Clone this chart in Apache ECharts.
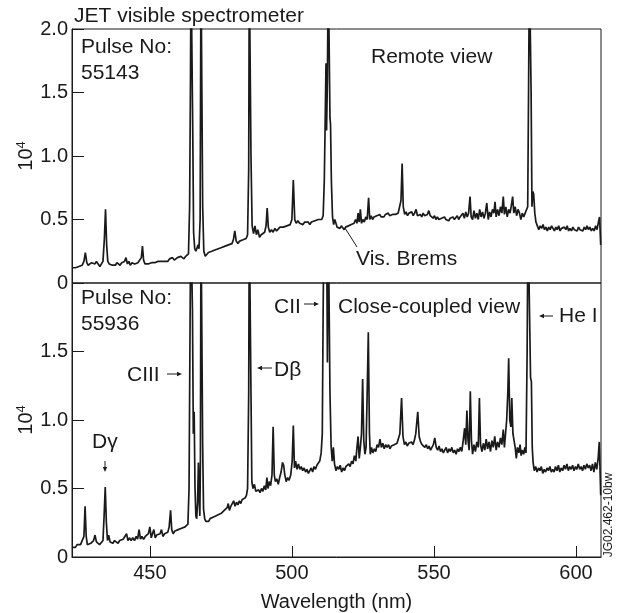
<!DOCTYPE html>
<html>
<head>
<meta charset="utf-8">
<script src="https://cdn.jsdelivr.net/npm/echarts@6/dist/echarts.min.js"></script>
<style>html,body{margin:0;padding:0;background:#fff}#c{width:620px;height:613px}</style>
</head>
<body>
<div id="c"></div>
<script>
// Wavelength axis (nm)
const xMin = 422.6, xMax = 608.8;
const xTickValues = [450, 500, 550, 600];
const yTickValues = [0, 0.5, 1.0, 1.5, 2.0];

// Remote view, pulse 55143: [wavelength nm, intensity x10^4]
const topSpectrum = [
[422.6,0.12],[423.2,0.11],[423.8,0.12],[424.4,0.12],[425.0,0.13],[425.6,0.12],[426.2,0.14],[426.8,0.17],[427.3,0.24],[427.8,0.16],
[428.3,0.14],[428.9,0.15],[429.5,0.16],[430.1,0.16],[430.7,0.15],[431.2,0.17],[431.8,0.15],[432.4,0.13],[432.9,0.14],[433.5,0.17],
[434.0,0.35],[434.4,0.58],[434.8,0.30],[435.2,0.17],[435.7,0.15],[436.2,0.16],[436.8,0.14],[437.3,0.15],[437.9,0.14],[438.4,0.16],
[439.0,0.15],[439.5,0.14],[440.1,0.16],[440.6,0.15],[441.1,0.17],[441.6,0.20],[442.1,0.15],[442.6,0.17],[443.1,0.14],[443.7,0.16],
[444.2,0.17],[444.7,0.15],[445.3,0.14],[445.8,0.16],[446.4,0.15],[447.0,0.20],[447.4,0.29],[447.8,0.18],[448.3,0.15],[448.9,0.16],
[449.4,0.15],[450.0,0.15],[450.6,0.16],[451.2,0.15],[451.7,0.16],[452.3,0.15],[452.9,0.17],[453.4,0.16],[454.0,0.17],[454.6,0.18],
[455.2,0.17],[455.7,0.18],[456.3,0.17],[456.9,0.19],[457.4,0.18],[458.0,0.20],[458.6,0.18],[459.2,0.19],[459.7,0.20],[460.3,0.19],
[460.9,0.21],[461.5,0.20],[462.0,0.19],[462.6,0.21],[463.1,0.20],[463.6,0.23],[464.0,0.60],[464.3,1.60],[464.5,2.50],[464.8,2.50],
[465.1,1.20],[465.4,0.40],[465.8,0.27],[466.2,0.25],[466.6,0.24],[467.0,0.30],[467.3,0.27],[467.7,0.50],[468.0,2.50],[468.3,2.50],
[468.6,0.60],[469.0,0.25],[469.5,0.21],[470.0,0.22],[470.6,0.24],[471.2,0.23],[471.8,0.25],[472.3,0.24],[472.9,0.26],[473.5,0.25],
[474.1,0.27],[474.7,0.26],[475.3,0.28],[475.9,0.27],[476.5,0.29],[477.1,0.28],[477.7,0.30],[478.3,0.29],[478.9,0.31],[479.4,0.34],
[479.9,0.41],[480.4,0.33],[481.0,0.31],[481.6,0.33],[482.2,0.32],[482.8,0.34],[483.4,0.33],[483.9,0.35],[484.4,0.38],[484.8,0.90],
[485.0,2.50],[485.3,2.50],[485.6,1.00],[486.0,0.45],[486.5,0.39],[487.0,0.45],[487.5,0.38],[488.0,0.42],[488.6,0.36],[489.2,0.38],
[489.8,0.37],[490.4,0.40],[490.9,0.45],[491.3,0.59],[491.7,0.44],[492.2,0.40],[492.8,0.42],[493.4,0.40],[494.0,0.43],[494.6,0.41],
[495.2,0.42],[495.8,0.44],[496.4,0.43],[497.0,0.44],[497.6,0.43],[498.2,0.45],[498.8,0.44],[499.4,0.46],[500.0,0.50],[500.5,0.81],
[501.0,0.50],[501.5,0.47],[502.1,0.49],[502.7,0.47],[503.3,0.48],[503.9,0.46],[504.5,0.48],[505.1,0.47],[505.7,0.48],[506.3,0.46],
[506.9,0.48],[507.5,0.47],[508.1,0.49],[508.7,0.48],[509.3,0.50],[509.9,0.49],[510.5,0.50],[511.0,0.53],[511.4,0.80],[511.8,1.40],
[512.0,1.73],[512.2,1.20],[512.5,1.60],[512.8,2.50],[513.1,2.50],[513.4,1.30],[513.6,1.25],[513.9,0.80],[514.3,0.52],[514.7,0.46],
[515.1,0.50],[515.5,0.47],[515.9,0.44],[516.4,0.45],[516.9,0.43],[517.4,0.45],[517.9,0.44],[518.4,0.42],[518.9,0.44],[519.4,0.43],
[519.9,0.45],[520.4,0.44],[520.9,0.46],[521.4,0.45],[521.9,0.47],[522.4,0.50],[522.9,0.47],[523.3,0.55],[523.7,0.48],[524.1,0.58],
[524.5,0.47],[525.0,0.50],[525.5,0.48],[526.0,0.52],[526.5,0.50],[527.0,0.67],[527.4,0.50],[527.9,0.53],[528.4,0.50],[528.9,0.52],
[529.4,0.51],[529.9,0.53],[530.4,0.52],[530.9,0.54],[531.4,0.52],[531.9,0.53],[532.4,0.52],[532.9,0.54],[533.4,0.53],[533.9,0.55],
[534.4,0.53],[534.9,0.52],[535.4,0.54],[535.9,0.53],[536.4,0.54],[536.9,0.53],[537.4,0.55],[537.9,0.54],[538.4,0.65],[538.8,0.94],
[539.2,0.60],[539.7,0.54],[540.2,0.56],[540.7,0.53],[541.2,0.55],[541.7,0.54],[542.2,0.56],[542.7,0.53],[543.2,0.55],[543.7,0.58],
[544.2,0.53],[544.7,0.52],[545.2,0.54],[545.7,0.52],[546.2,0.55],[546.7,0.53],[547.2,0.52],[547.7,0.54],[548.2,0.57],[548.7,0.53],
[549.2,0.52],[549.7,0.51],[550.2,0.53],[550.7,0.50],[551.2,0.52],[551.7,0.50],[552.2,0.49],[552.7,0.51],[553.2,0.50],[553.7,0.52],
[554.2,0.50],[554.7,0.51],[555.2,0.49],[555.7,0.51],[556.2,0.50],[556.7,0.52],[557.2,0.50],[557.7,0.51],[558.2,0.53],[558.7,0.50],
[559.2,0.52],[559.7,0.51],[560.2,0.55],[560.7,0.51],[561.2,0.56],[561.7,0.52],[562.2,0.55],[562.7,0.68],[563.1,0.52],[563.6,0.50],
[564.1,0.57],[564.6,0.51],[565.1,0.55],[565.6,0.50],[566.1,0.58],[566.6,0.52],[567.1,0.56],[567.6,0.51],[568.1,0.55],[568.6,0.63],
[569.1,0.50],[569.6,0.56],[570.1,0.52],[570.6,0.58],[571.1,0.55],[571.5,0.64],[571.9,0.52],[572.4,0.58],[572.9,0.53],[573.4,0.60],
[573.9,0.55],[574.4,0.68],[574.8,0.54],[575.3,0.60],[575.8,0.52],[576.3,0.58],[576.8,0.55],[577.3,0.62],[577.7,0.68],[578.1,0.55],
[578.6,0.60],[579.1,0.53],[579.6,0.58],[580.1,0.55],[580.6,0.50],[581.1,0.55],[581.6,0.52],[582.1,0.55],[582.6,0.56],[583.0,0.60],
[583.3,1.50],[583.6,2.50],[583.9,2.50],[584.2,1.50],[584.5,0.60],[584.8,0.72],[585.1,0.70],[585.5,0.55],[585.9,0.48],[586.4,0.45],
[586.9,0.42],[587.4,0.45],[587.9,0.43],[588.4,0.46],[588.9,0.42],[589.4,0.44],[589.9,0.41],[590.4,0.44],[590.9,0.42],[591.4,0.45],
[591.9,0.43],[592.4,0.41],[592.9,0.44],[593.4,0.42],[593.9,0.45],[594.4,0.41],[594.9,0.43],[595.4,0.42],[595.9,0.44],[596.4,0.42],
[596.9,0.45],[597.4,0.41],[597.9,0.43],[598.4,0.41],[598.9,0.44],[599.4,0.42],[599.9,0.43],[600.4,0.41],[600.9,0.44],[601.4,0.42],
[601.9,0.43],[602.4,0.41],[602.9,0.44],[603.4,0.42],[603.9,0.45],[604.4,0.42],[604.9,0.44],[605.4,0.41],[605.9,0.43],[606.4,0.41],
[606.9,0.45],[607.4,0.42],[607.9,0.48],[608.3,0.52],[608.7,0.30]
];

// Close-coupled view, pulse 55936: [wavelength nm, intensity x10^4]
const bottomSpectrum = [
[422.6,0.07],[423.2,0.08],[423.8,0.07],[424.4,0.09],[425.0,0.08],[425.6,0.09],[426.2,0.10],[426.8,0.15],[427.2,0.37],[427.6,0.15],
[428.0,0.09],[428.6,0.08],[429.2,0.10],[429.7,0.09],[430.2,0.12],[430.7,0.16],[431.2,0.11],[431.7,0.10],[432.3,0.09],[432.9,0.10],
[433.5,0.12],[433.9,0.30],[434.3,0.51],[434.7,0.25],[435.1,0.12],[435.5,0.16],[436.0,0.11],[436.5,0.12],[437.0,0.10],[437.6,0.12],
[438.2,0.11],[438.8,0.10],[439.4,0.12],[440.0,0.11],[440.6,0.13],[441.2,0.12],[441.8,0.17],[442.3,0.12],[442.8,0.14],[443.4,0.12],
[444.0,0.14],[444.6,0.12],[445.2,0.15],[445.7,0.13],[446.2,0.20],[446.7,0.13],[447.2,0.15],[447.8,0.13],[448.4,0.15],[449.0,0.14],
[449.5,0.17],[450.0,0.22],[450.5,0.14],[451.0,0.15],[451.4,0.20],[451.9,0.14],[452.4,0.16],[453.0,0.15],[453.6,0.17],[454.1,0.20],
[454.6,0.15],[455.2,0.17],[455.8,0.16],[456.3,0.18],[456.8,0.22],[457.3,0.34],[457.7,0.20],[458.2,0.17],[458.8,0.19],[459.4,0.18],
[460.0,0.20],[460.6,0.19],[461.2,0.21],[461.8,0.20],[462.4,0.22],[463.0,0.21],[463.4,0.24],[463.8,0.50],[464.1,1.50],[464.4,2.50],
[464.7,2.50],[465.0,1.80],[465.3,0.90],[465.6,1.06],[465.9,0.50],[466.2,0.30],[466.5,0.28],[466.8,0.40],[467.1,0.69],[467.4,0.40],
[467.6,0.30],[467.8,0.70],[468.0,2.50],[468.3,2.50],[468.6,0.80],[468.9,0.35],[469.3,0.28],[469.7,0.26],[470.2,0.27],[470.7,0.26],
[471.2,0.28],[471.7,0.27],[472.2,0.29],[472.7,0.28],[473.2,0.30],[473.7,0.29],[474.2,0.31],[474.7,0.30],[475.2,0.32],[475.7,0.31],
[476.2,0.34],[476.7,0.33],[477.2,0.36],[477.6,0.39],[478.0,0.34],[478.5,0.37],[479.0,0.36],[479.5,0.41],[480.0,0.37],[480.5,0.40],
[481.0,0.38],[481.5,0.41],[482.0,0.39],[482.5,0.42],[483.0,0.41],[483.5,0.43],[484.0,0.45],[484.4,0.50],[484.8,1.20],[485.0,2.50],
[485.3,2.50],[485.6,1.20],[485.9,0.55],[486.3,0.50],[486.8,0.53],[487.3,0.48],[487.8,0.47],[488.3,0.49],[488.8,0.47],[489.3,0.50],
[489.8,0.48],[490.3,0.52],[490.8,0.49],[491.2,0.58],[491.6,0.50],[492.0,0.55],[492.5,0.52],[493.0,0.60],[493.4,0.95],[493.8,0.60],
[494.2,0.55],[494.7,0.57],[495.2,0.53],[495.7,0.58],[496.2,0.62],[496.7,0.69],[497.1,0.67],[497.5,0.60],[498.0,0.55],[498.5,0.58],
[499.0,0.56],[499.6,0.60],[500.1,0.70],[500.5,0.96],[500.9,0.65],[501.3,0.70],[501.8,0.64],[502.3,0.68],[502.8,0.64],[503.3,0.66],
[503.8,0.63],[504.3,0.65],[504.8,0.62],[505.3,0.64],[505.8,0.61],[506.3,0.63],[506.8,0.65],[507.3,0.62],[507.8,0.66],[508.3,0.64],
[508.8,0.67],[509.3,0.66],[509.8,0.70],[510.3,0.76],[510.7,0.90],[511.0,1.80],[511.3,2.50],[511.6,2.50],[511.9,2.50],[512.2,2.50],
[512.5,1.42],[512.8,2.50],[513.1,2.50],[513.4,1.20],[513.8,0.81],[514.2,0.70],[514.6,0.80],[515.0,0.68],[515.5,0.63],[516.0,0.66],
[516.5,0.64],[517.0,0.67],[517.5,0.62],[518.0,0.65],[518.5,0.63],[519.0,0.66],[519.5,0.65],[520.0,0.68],[520.5,0.66],[521.0,0.70],
[521.5,0.68],[522.0,0.74],[522.5,0.70],[522.9,0.80],[523.3,0.88],[523.7,0.72],[524.1,0.80],[524.5,0.90],[524.9,1.30],[525.3,0.85],
[525.7,0.75],[526.1,0.80],[526.5,1.20],[526.9,1.64],[527.3,0.90],[527.6,0.75],[528.0,0.80],[528.5,0.76],[529.0,0.79],[529.5,0.77],
[530.0,0.82],[530.5,0.80],[531.0,0.86],[531.5,0.80],[532.0,0.83],[532.5,0.79],[533.0,0.82],[533.5,0.80],[534.0,0.82],[534.5,0.79],
[535.0,0.81],[535.5,0.80],[536.0,0.82],[536.5,0.81],[537.0,0.83],[537.5,0.82],[538.0,0.90],[538.6,1.16],[539.1,0.88],[539.6,0.82],
[540.1,0.84],[540.6,0.81],[541.1,0.83],[541.6,0.82],[542.1,0.84],[542.6,0.82],[543.1,0.85],[543.6,0.90],[544.3,1.06],[544.8,0.88],
[545.3,0.84],[545.8,0.82],[546.3,0.83],[546.8,0.80],[547.3,0.82],[547.8,0.79],[548.3,0.81],[548.8,0.78],[549.3,0.80],[549.8,0.82],
[550.3,0.87],[550.8,0.80],[551.3,0.78],[551.8,0.81],[552.3,0.77],[552.8,0.79],[553.3,0.76],[553.8,0.78],[554.3,0.80],[554.8,0.76],
[555.3,0.79],[555.8,0.77],[556.3,0.80],[556.8,0.76],[557.3,0.78],[557.8,0.75],[558.3,0.79],[558.8,0.77],[559.3,0.80],[559.8,0.77],
[560.3,0.85],[560.8,0.94],[561.2,0.82],[561.6,1.07],[562.0,0.85],[562.4,0.78],[562.8,1.21],[563.2,0.85],[563.6,0.75],[564.1,0.82],
[564.6,0.77],[565.1,0.84],[565.6,0.80],[566.0,1.16],[566.4,0.82],[566.9,0.77],[567.4,0.83],[567.9,0.78],[568.4,0.86],[568.9,0.79],
[569.4,0.84],[569.9,0.77],[570.4,0.85],[570.9,0.80],[571.4,0.88],[571.9,0.78],[572.4,0.84],[572.9,0.80],[573.4,0.87],[573.9,0.82],
[574.4,0.93],[574.8,0.80],[575.2,0.90],[575.6,1.00],[576.0,1.20],[576.3,1.45],[576.7,1.00],[577.1,0.95],[577.4,1.16],[577.8,0.90],
[578.2,0.85],[578.6,0.80],[579.0,0.72],[579.4,0.80],[579.9,0.76],[580.3,0.82],[580.7,0.74],[581.1,0.78],[581.6,0.75],[582.0,0.80],
[582.4,0.76],[582.8,1.50],[583.1,2.50],[583.4,2.50],[583.7,2.50],[584.0,1.31],[584.3,1.28],[584.6,0.80],[584.9,0.69],[585.3,0.63],
[585.8,0.66],[586.3,0.62],[586.8,0.65],[587.3,0.63],[587.8,0.66],[588.3,0.61],[588.8,0.64],[589.3,0.62],[589.8,0.65],[590.3,0.63],
[590.8,0.66],[591.3,0.62],[591.8,0.64],[592.3,0.62],[592.8,0.66],[593.3,0.63],[593.8,0.67],[594.3,0.62],[594.8,0.65],[595.3,0.63],
[595.8,0.67],[596.3,0.64],[596.8,0.68],[597.3,0.63],[597.8,0.66],[598.3,0.64],[598.8,0.67],[599.3,0.63],[599.8,0.66],[600.3,0.64],
[600.8,0.68],[601.3,0.64],[601.8,0.66],[602.3,0.63],[602.8,0.67],[603.3,0.64],[603.8,0.68],[604.3,0.65],[604.8,0.67],[605.3,0.63],
[605.8,0.68],[606.3,0.62],[606.8,0.69],[607.3,0.64],[607.8,0.72],[608.2,0.84],[608.7,0.45]
];

const FONT = '"Liberation Sans", Arial, Helvetica, sans-serif';
const INK = '#1a1a1a';

const chart = echarts.init(document.getElementById('c'), null, {renderer: 'canvas'});

function fmtY(hideTop) {
  return function (v) {
    if (v === 0) return '0';
    if (hideTop && v >= 2) return '';
    return v.toFixed(1);
  };
}

function arrowH(x1, x2, y) {
  const dir = x2 > x1 ? 1 : -1;
  return [
    {type: 'line', shape: {x1: x1, y1: y, x2: x2 - dir * 3, y2: y}, style: {stroke: INK, lineWidth: 1}, silent: true},
    {type: 'polygon', shape: {points: [[x2, y], [x2 - dir * 5, y - 2.2], [x2 - dir * 5, y + 2.2]]}, style: {fill: INK}, silent: true}
  ];
}
function arrowV(x, y1, y2) {
  return [
    {type: 'line', shape: {x1: x, y1: y1, x2: x, y2: y2 - 3}, style: {stroke: INK, lineWidth: 1}, silent: true},
    {type: 'polygon', shape: {points: [[x, y2], [x - 2.2, y2 - 5], [x + 2.2, y2 - 5]]}, style: {fill: INK}, silent: true}
  ];
}
function txt(text, x, y, size, extra) {
  return Object.assign({
    type: 'text', x: x, y: y, silent: true,
    style: {text: text, font: size + 'px ' + FONT, fill: INK, textAlign: 'left', textVerticalAlign: 'middle'}
  }, extra || {});
}
function yName(y) {
  return {
    type: 'text', x: 26, y: y, rotation: Math.PI / 2, silent: true,
    style: {
      text: '10{s|4}', font: '20px ' + FONT, fill: INK, textAlign: 'center', textVerticalAlign: 'middle',
      rich: {s: {fontSize: 13, fontFamily: FONT, fill: INK, verticalAlign: 'top', lineHeight: 22}}
    }
  };
}

const yAxisCommon = {
  type: 'value', min: 0, max: 2, interval: 0.5,
  axisLine: {show: true, lineStyle: {color: INK, width: 1}},
  axisTick: {show: true, inside: true, length: 12, lineStyle: {color: INK, width: 1}},
  splitLine: {show: false}
};

const option = {
  animation: false,
  backgroundColor: '#fff',
  grid: [
    {left: 72, top: 29, width: 529, height: 254, show: true, borderColor: INK, borderWidth: 1, backgroundColor: 'transparent'},
    {left: 72, top: 283, width: 529, height: 274, show: true, borderColor: INK, borderWidth: 1, backgroundColor: 'transparent'}
  ],
  xAxis: [
    {gridIndex: 0, type: 'value', min: xMin, max: xMax,
     axisLine: {show: false}, axisTick: {show: false}, axisLabel: {show: false}, splitLine: {show: false}},
    {gridIndex: 1, type: 'value', min: xMin, max: xMax,
     axisLine: {show: true, lineStyle: {color: INK, width: 1}},
     axisTick: {show: true, inside: true, length: 11, customValues: xTickValues, lineStyle: {color: INK, width: 1}},
     axisLabel: {show: true, customValues: xTickValues, fontSize: 20, fontFamily: FONT, color: INK, margin: 6},
     splitLine: {show: false},
     name: 'Wavelength (nm)', nameLocation: 'middle', nameGap: 35,
     nameTextStyle: {fontSize: 20, fontFamily: FONT, color: INK}}
  ],
  yAxis: [
    Object.assign({}, yAxisCommon, {gridIndex: 0,
      axisLabel: {formatter: fmtY(false), customValues: yTickValues, fontSize: 20, fontFamily: FONT, color: INK, margin: 4}}),
    Object.assign({}, yAxisCommon, {gridIndex: 1,
      axisLabel: {formatter: fmtY(true), customValues: yTickValues, fontSize: 20, fontFamily: FONT, color: INK, margin: 4}})
  ],
  series: [
    {type: 'line', xAxisIndex: 0, yAxisIndex: 0, data: topSpectrum, showSymbol: false, clip: true,
     lineStyle: {color: INK, width: 1.7}, silent: true},
    {type: 'line', xAxisIndex: 1, yAxisIndex: 1, data: bottomSpectrum, showSymbol: false, clip: true,
     lineStyle: {color: INK, width: 1.7}, silent: true}
  ],
  graphic: [].concat(
    [yName(156), yName(420)],
    [txt('JET visible spectrometer', 74, 16, 21)],
    [txt('Pulse No:', 81, 47, 21), txt('55143', 81, 73, 21)],
    [txt('Remote view', 371, 57, 21)],
    [txt('Vis. Brems', 356, 259, 21)],
    [{type: 'line', shape: {x1: 345, y1: 228, x2: 357, y2: 247}, style: {stroke: INK, lineWidth: 1}, silent: true}],
    [txt('Pulse No:', 81, 298, 21), txt('55936', 81, 324, 21)],
    [txt('Close-coupled view', 338, 307, 21)],
    [txt('CIII', 127, 375, 21)], arrowH(167, 182, 374),
    [txt('D\u03B2', 274, 370, 21)], arrowH(272, 257, 368),
    [txt('CII', 274, 307, 21)], arrowH(304, 319, 304),
    [txt('He I', 559, 316, 21)], arrowH(553, 539, 316),
    [txt('D\u03B3', 92, 442, 21)], arrowV(105, 461, 472),
    [txt('JG02.462-10bw', 609, 515, 12, {rotation: Math.PI / 2})]
  )
};
// center the rotated credit text
option.graphic[option.graphic.length - 1].style.textAlign = 'center';

chart.setOption(option);
</script>
</body>
</html>
